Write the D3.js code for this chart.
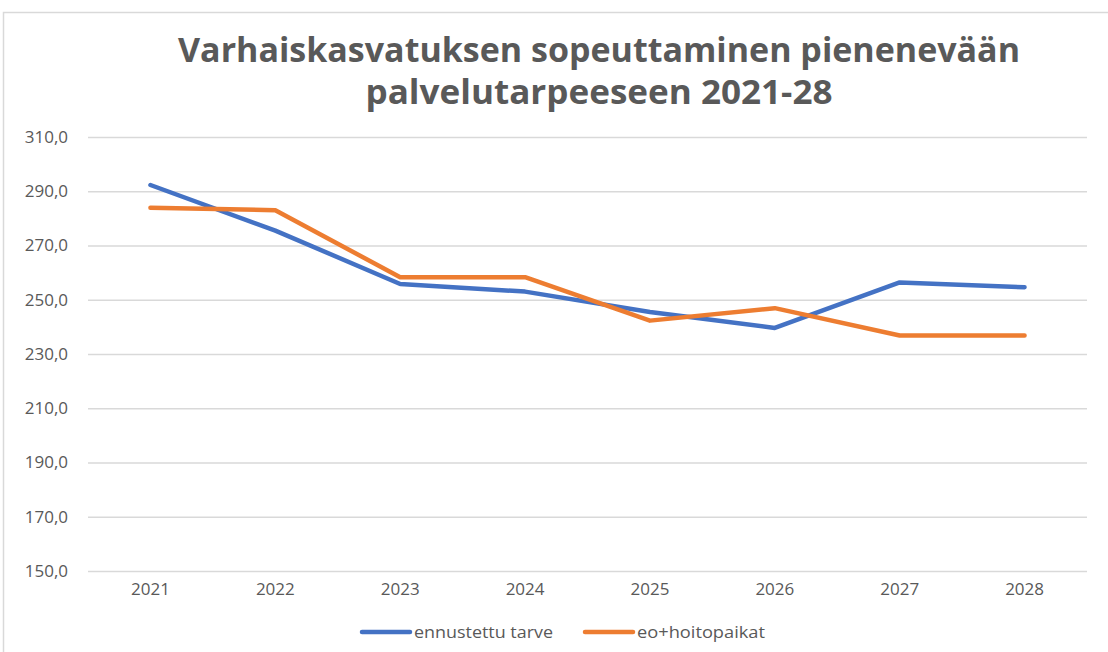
<!DOCTYPE html>
<html>
<head>
<meta charset="utf-8">
<script src="https://cdn.jsdelivr.net/npm/d3@7"></script>
<style>
  body { margin: 0; background: #fff; }
  svg { display: block; }
  text { font-family: "Open Sans", "DejaVu Sans", sans-serif; fill: #595959; }
</style>
</head>
<body>
<div id="chart"></div>
<script>
// values
const years = ['2021', '2022', '2023', '2024', '2025', '2026', '2027', '2028'];
const ennustettuTarve = [292.3, 275.5, 255.8, 253.0, 245.5, 239.6, 256.4, 254.6];
const eoHoitopaikat = [283.9, 283.0, 258.3, 258.3, 242.3, 246.9, 236.8, 236.8];
const yTicks = [150, 170, 190, 210, 230, 250, 270, 290, 310];
const seriesNames = ['ennustettu tarve', 'eo+hoitopaikat'];
const seriesColors = ['#4472C4', '#ED7D31'];

const width = 1108, height = 652;
const plot = { left: 88, right: 1087, top: 137, bottom: 571 };

const svg = d3.select('#chart').append('svg')
    .attr('width', width)
    .attr('height', height);

// chart frame (continues past the right and bottom edges)
svg.append('path')
    .attr('d', `M3.5,${height} V12.5 H${width}`)
    .attr('fill', 'none')
    .attr('stroke', '#d9d9d9')
    .attr('stroke-width', 1.5);

// title
const titleLines = [
    { text: 'Varhaiskasvatuksen sopeuttaminen pienenevään', y: 62, len: 842 },
    { text: 'palvelutarpeeseen 2021-28', y: 104, len: 467 }
];
svg.selectAll('text.title')
    .data(titleLines)
    .enter()
    .append('text')
    .attr('class', 'title')
    .attr('x', 599)
    .attr('y', d => d.y)
    .attr('text-anchor', 'middle')
    .attr('textLength', d => d.len)
    .attr('lengthAdjust', 'spacingAndGlyphs')
    .style('font-size', '34px')
    .style('font-weight', 'bold')
    .text(d => d.text);

const x = d3.scaleBand()
    .domain(years)
    .range([plot.left, plot.right]);

const y = d3.scaleLinear()
    .domain([150, 310])
    .range([plot.bottom, plot.top]);

const fmt = d => d3.format('.1f')(d).replace('.', ',');

// gridlines + y labels
const yAxis = svg.append('g')
    .attr('transform', `translate(${plot.left},0)`)
    .call(d3.axisLeft(y)
        .tickValues(yTicks)
        .tickSize(-(plot.right - plot.left))
        .tickPadding(20)
        .tickFormat(fmt));
yAxis.select('.domain').remove();
yAxis.selectAll('.tick line')
    .attr('stroke', '#d9d9d9')
    .attr('stroke-width', 1.5);
yAxis.selectAll('.tick text')
    .attr('fill', '#595959')
    .style('font-size', '17px')
    .style('font-family', '"Open Sans", sans-serif');

// x labels
const xAxis = svg.append('g')
    .attr('transform', `translate(0,${plot.bottom})`)
    .call(d3.axisBottom(x).tickSize(0).tickPadding(12));
xAxis.select('.domain').remove();
xAxis.selectAll('.tick text')
    .attr('fill', '#595959')
    .style('font-size', '17px')
    .style('font-family', '"Open Sans", sans-serif');

// lines
const series = [ennustettuTarve, eoHoitopaikat];
const line = d3.line()
    .x((d, i) => x(years[i]) + x.bandwidth() / 2)
    .y(d => y(d));

svg.selectAll('path.series')
    .data(series)
    .enter()
    .append('path')
    .attr('class', 'series')
    .attr('d', d => line(d))
    .attr('fill', 'none')
    .attr('stroke', (d, i) => seriesColors[i])
    .attr('stroke-width', 4.5)
    .attr('stroke-linejoin', 'round')
    .attr('stroke-linecap', 'round');

// legend
const legendX = [362, 585];
const legendLen = [139, 128];
const legend = svg.append('g').attr('class', 'legend');
seriesNames.forEach((name, i) => {
    legend.append('line')
        .attr('x1', legendX[i])
        .attr('x2', legendX[i] + 48)
        .attr('y1', 632)
        .attr('y2', 632)
        .attr('stroke', seriesColors[i])
        .attr('stroke-width', 4.5)
        .attr('stroke-linecap', 'round');
    legend.append('text')
        .attr('x', legendX[i] + 52)
        .attr('y', 638)
        .attr('textLength', legendLen[i])
        .attr('lengthAdjust', 'spacingAndGlyphs')
        .style('font-size', '17px')
        .text(name);
});
</script>
</body>
</html>
